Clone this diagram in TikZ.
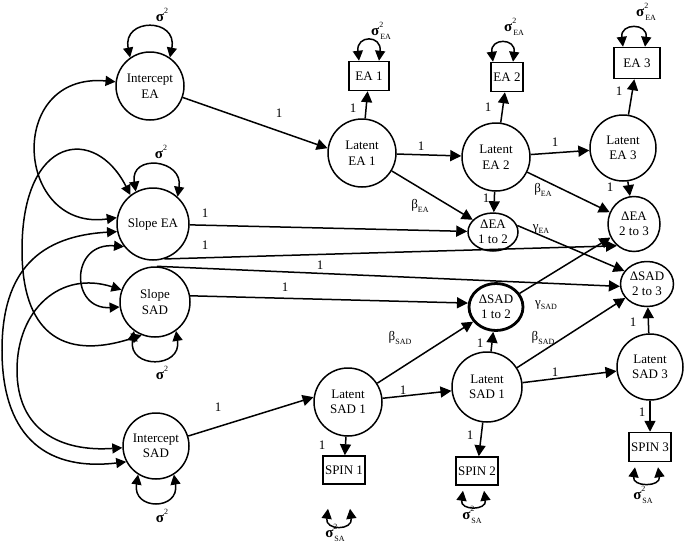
\documentclass[tikz,border=0pt]{standalone}
\usepackage{fontspec}
\setmainfont{Liberation Serif}
\usetikzlibrary{arrows.meta,shapes.geometric}
\newcommand{\fnt}{\fontsize{13}{15.5}\selectfont}
\newcommand{\scr}{\fontsize{8}{8}\selectfont}
\newcommand{\sig}{{\fontsize{15}{15}\selectfont\textbf{σ}}}
\newcommand{\sigsq}{\sig\raisebox{1.3ex}{\scr 2}}
\newcommand{\sigsub}[1]{\sig\rlap{\raisebox{1.4ex}{\scr 2}}\kern1pt\raisebox{-0.7ex}{\scr #1}}
\newcommand{\coef}[2]{#1\raisebox{-0.6ex}{\scr #2}}

\begin{document}
\begin{tikzpicture}[x=1pt,y=-1pt]
\tikzset{latent/.style={draw, circle, line width=1.5pt, minimum size=68pt, inner sep=0pt, align=center, font=\fnt},
  obs/.style={draw, rectangle, line width=1.5pt, minimum height=29pt, inner sep=2pt, font=\fnt},
  change/.style={draw, ellipse, line width=1.5pt, inner sep=0pt, align=center, font=\fnt},
  reg/.style={line width=1.5pt, -{Triangle[length=11pt,width=11pt]}},
  covar/.style={line width=1.5pt, {Triangle[length=10pt,width=10pt]}-{Triangle[length=10pt,width=10pt]}},
  lab/.style={font=\fnt, inner sep=0pt}}
\useasboundingbox (0,0) rectangle (685,544);
% growth factors
\node[latent] (IEA) at (150,86) {Intercept\\EA};
\node[latent, minimum size=72pt] (SEA) at (153,224) {Slope EA};
\node[latent, minimum size=70pt] (SSAD) at (155,302) {Slope\\SAD};
\node[latent, minimum size=66pt] (ISAD) at (156,446) {Intercept\\SAD};
% EA occasions
\node[latent] (LEA1) at (362,153) {Latent\\EA 1};
\node[latent] (LEA2) at (496,157) {Latent\\EA 2};
\node[latent, minimum size=66pt] (LEA3) at (623,148) {Latent\\EA 3};
\node[obs, minimum width=40pt] (EA1) at (369,76) {EA 1};
\node[obs, minimum width=32pt] (EA2) at (507,77) {EA 2};
\node[obs, minimum width=46pt, minimum height=31pt] (EA3) at (637,63) {EA 3};
% change scores
\node[change, minimum width=50pt, minimum height=38pt] (DEA12) at (493,232) {ΔEA\\1 to 2};
\node[change, line width=2.8pt, minimum width=54pt, minimum height=47pt] (DSAD12) at (496,307) {ΔSAD\\1 to 2};
\node[change, minimum width=52pt, minimum height=55pt] (DEA23) at (634,224) {ΔEA\\2 to 3};
\node[change, minimum width=53pt, minimum height=45pt] (DSAD23) at (647,284) {ΔSAD\\2 to 3};
% SAD occasions
\node[latent] (LSAD1) at (348,402) {Latent\\SAD 1};
\node[latent, minimum size=70pt] (LSAD2) at (487,387) {Latent\\SAD 1};
\node[latent, minimum size=66pt] (LSAD3) at (650,367) {Latent\\SAD 3};
\node[obs, minimum width=42pt, minimum height=28pt] (SPIN1) at (344,470) {SPIN 1};
\node[obs, minimum width=40pt, minimum height=28pt] (SPIN2) at (477,471) {SPIN 2};
\node[obs, minimum width=42pt] (SPIN3) at (650,447) {SPIN 3};
% variances
\draw[covar] (IEA.125) .. controls +(-8,-40) and +(8,-40) .. (IEA.55);
\draw[covar] (SEA.118) .. controls +(-6,-38) and +(6,-38) .. (SEA.48);
\draw[covar] (SSAD.234) .. controls +(-6,38) and +(6,38) .. (SSAD.306);
\draw[covar] (ISAD.238) .. controls +(-6,36) and +(6,36) .. (ISAD.302);
\draw[covar] ([xshift=-10pt]EA1.north) .. controls +(-3,-26) and +(3,-26) .. ([xshift=10pt]EA1.north);
\draw[covar] ([xshift=-14pt]EA2.north) .. controls +(-3,-24) and +(3,-24) .. ([xshift=6pt]EA2.north);
\draw[covar] ([xshift=-14pt]EA3.north) .. controls +(-3,-24) and +(3,-24) .. ([xshift=8pt]EA3.north);
\draw[covar] ([xshift=-16pt,yshift=-24pt]SPIN1.south) .. controls +(-3,22) and +(3,22) .. ([xshift=6pt,yshift=-24pt]SPIN1.south);
\draw[covar] ([xshift=-14pt,yshift=-5pt]SPIN2.south) .. controls +(-3,20) and +(3,20) .. ([xshift=7pt,yshift=-5pt]SPIN2.south);
\draw[covar] ([xshift=-15pt,yshift=-5pt]SPIN3.south) .. controls +(-3,20) and +(3,20) .. ([xshift=8pt,yshift=-5pt]SPIN3.south);
\node[lab] (vIEA) at (162,15) {\sigsq};
\node[lab] (vSEA) at (161,152) {\sigsq};
\node[lab] (vSSAD) at (162,373) {\sigsq};
\node[lab] (vISAD) at (162,516) {\sigsq};
\node[lab] (vEA1) at (381,31) {\sigsub{EA}};
\node[lab] (vEA2) at (514,27) {\sigsub{EA}};
\node[lab] (vEA3) at (646,12) {\sigsub{EA}};
\node[lab] (vSPIN1) at (335,533) {\sigsub{SA}};
\node[lab] (vSPIN2) at (472,515) {\sigsub{SA}};
\node[lab] (vSPIN3) at (643,495) {\sigsub{SA}};
% covariances
\draw[covar] (IEA.173) .. controls (5,72) and (15,232) .. (SEA.170);
\draw[covar] (SEA.128) .. controls (95,125) and (22,135) .. (22,250) .. controls (22,330) and (60,362) .. (SSAD.248);
\draw[covar] (SEA.192) .. controls (40,236) and (2,270) .. (2,350) .. controls (2,430) and (40,472) .. (ISAD.208);
\draw[covar] (SSAD.160) .. controls (60,270) and (17,310) .. (17,370) .. controls (17,430) and (60,452) .. (ISAD.183);
\draw[covar] (SEA.218) .. controls (70,242) and (70,310) .. (SSAD.188);
% paths
\draw[reg] (IEA) -- (LEA1.172);
\draw[reg] (LEA1) -- (EA1);
\draw[reg] (LEA1) -- (LEA2);
\draw[reg] (LEA2) -- (EA2);
\draw[reg] (LEA2) -- (LEA3);
\draw[reg] (LEA3) -- (EA3);
\draw[reg] (LEA1) -- (DEA12);
\draw[reg] (LEA2) -- (DEA12);
\draw[reg] (LEA2) -- (DEA23);
\draw[reg] (LEA3) -- (DEA23);
\draw[reg] (SEA) -- (DEA12);
\draw[reg] (SEA.-72) -- (DEA23.232);
\draw[reg] (SSAD.87) -- (DSAD23.185);
\draw[reg] (SSAD.10) -- (DSAD12.172);
\draw[reg] (DEA12.15) -- (DSAD23.150);
\draw[reg] (DSAD12.30) -- (DEA23.210);
\draw[reg] (LSAD1) -- (DSAD12);
\draw[reg] (LSAD2) -- (DSAD12);
\draw[reg] (LSAD2) -- (DSAD23);
\draw[reg] (LSAD3) -- (DSAD23);
\draw[reg] (ISAD) -- (LSAD1.172);
\draw[reg] (LSAD1) -- (LSAD2);
\draw[reg] (LSAD2) -- (LSAD3);
\draw[reg] (LSAD1) -- (SPIN1);
\draw[reg] (LSAD2) -- (SPIN2);
\draw[reg] (LSAD3) -- (SPIN3);
% weights
\foreach \x/\y [count=\i] in {279/113, 353/108, 421/146, 488/107, 555/142, 619/91, 486/198, 610/187, 205/213, 205/245, 320/265, 285/287, 480/343, 633/322, 218/407, 403/390, 555/372, 322/445, 470/435, 642/412}
  \node[lab] (one\i) at (\x,\y) {1};
\node[lab] (bEA1) at (420,206) {\coef{β}{EA}};
\node[lab] (bEA2) at (543,190) {\coef{β}{EA}};
\node[lab] (gEA) at (541,229) {\coef{γ}{EA}};
\node[lab] (gSAD) at (546,305) {\coef{γ}{SAD}};
\node[lab] (bSAD1) at (400,338) {\coef{β}{SAD}};
\node[lab] (bSAD2) at (543,338) {\coef{β}{SAD}};
\end{tikzpicture}
\end{document}
